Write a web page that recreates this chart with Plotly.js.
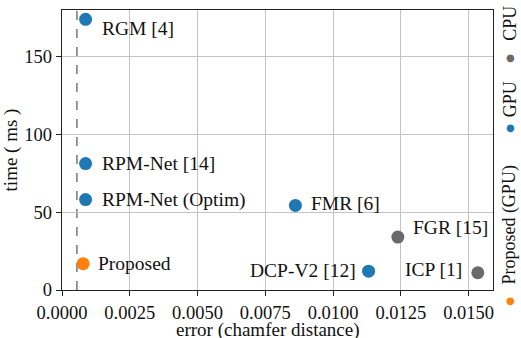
<!DOCTYPE html>
<html>
<head>
<meta charset="utf-8">
<script src="https://cdn.plot.ly/plotly-3.0.1.min.js"></script>
<style>
  html, body { margin: 0; padding: 0; background: #fff; }
  #chart { width: 521px; height: 338px; }
</style>
</head>
<body>
<div id="chart"></div>
<script>
// Registration methods: error vs runtime
const methods = ["RGM [4]", "RPM-Net [14]", "RPM-Net (Optim)", "Proposed",
                 "FMR [6]", "FGR [15]", "DCP-V2 [12]", "ICP [1]"];
const errorVals = [0.00087, 0.00087, 0.00087, 0.00078, 0.00861, 0.01239, 0.01131, 0.01534];
const timeVals = [174, 81.3, 58.1, 16.9, 54.4, 34, 12.1, 11.1];
const device = ["GPU", "GPU", "GPU", "Proposed (GPU)", "GPU", "CPU", "GPU", "CPU"];
const proposedError = 0.00055;

const groupNames = ["Proposed (GPU)", "GPU", "CPU"];
const groupColors = { "Proposed (GPU)": "#ff7f0e", "GPU": "#1f77b4", "CPU": "#6a6a6a" };

// label placement per method: [side, dx, dy]
const labelPlace = {
  "RGM [4]": ["right", 14, -9],
  "RPM-Net [14]": ["right", 14, 0],
  "RPM-Net (Optim)": ["right", 14, 0],
  "Proposed": ["right", 13, 0],
  "FMR [6]": ["right", 14, 2],
  "FGR [15]": ["right", 13, 10],
  "DCP-V2 [12]": ["left", -11, 1],
  "ICP [1]": ["left", -14, 3]
};

const FONT = "'Liberation Serif', 'Times New Roman', serif";

const traces = groupNames.map(g => {
  const idx = device.map((d, i) => d === g ? i : -1).filter(i => i >= 0);
  return {
    type: "scatter",
    mode: "markers",
    name: g,
    x: idx.map(i => errorVals[i]),
    y: idx.map(i => timeVals[i]),
    marker: { color: groupColors[g], size: 13, line: { width: 0 } },
    showlegend: false,
    cliponaxis: false,
    hoverinfo: "skip"
  };
});

const annotations = methods.map((m, i) => {
  const p = labelPlace[m];
  return {
    x: errorVals[i], y: timeVals[i], xref: "x", yref: "y",
    text: m, showarrow: false,
    xanchor: p[0] === "right" ? "left" : "right",
    yanchor: "middle",
    xshift: p[1], yshift: p[2],
    font: { family: FONT, size: 19.5, color: "#111" }
  };
});

// x-axis title, placed under the tick labels
annotations.push({
  xref: "paper", yref: "paper", x: 0.477, y: -0.142,
  xanchor: "center", yanchor: "middle", showarrow: false,
  text: "error (chamfer distance)",
  font: { family: FONT, size: 19, color: "#111" }
});

// vertical legend on the right, reading bottom to top (paper coords)
const legendDotY = [-0.036, 0.582, 0.829];
const legendTextY = [0.012, 0.61, 0.885];
groupNames.forEach((g, k) => {
  annotations.push({
    xref: "paper", yref: "paper", x: 1.041, y: legendDotY[k],
    xanchor: "center", yanchor: "middle",
    text: "●", showarrow: false,
    font: { family: "DejaVu Sans", size: 10, color: groupColors[g] }
  });
  annotations.push({
    xref: "paper", yref: "paper", x: 1.0394, y: legendTextY[k],
    xanchor: "center", yanchor: "bottom",
    text: g, textangle: -90, showarrow: false,
    font: { family: FONT, size: 18, color: "#111" }
  });
});

const layout = {
  width: 521, height: 338,
  margin: { l: 62, r: 28, t: 10, b: 48 },
  paper_bgcolor: "#fff", plot_bgcolor: "#fff",
  font: { family: FONT, size: 18, color: "#111" },
  showlegend: false,
  xaxis: {
    range: [0, 0.0159], tickvals: [0, 0.0025, 0.005, 0.0075, 0.01, 0.0125, 0.015],
    tickformat: ".4f",
    showgrid: true, gridcolor: "#c4c4c4", gridwidth: 1,
    zeroline: false, showline: true, linecolor: "#222", linewidth: 1.3, mirror: true,
    ticks: "outside", ticklen: 5, tickcolor: "#222", ticklabelstandoff: 0,
    tickfont: { family: FONT, size: 18.5, color: "#111" }
  },
  yaxis: {
    range: [0, 180], tickvals: [0, 50, 100, 150],
    showgrid: true, gridcolor: "#c4c4c4", gridwidth: 1,
    zeroline: false, showline: true, linecolor: "#222", linewidth: 1.3, mirror: true,
    ticks: "outside", ticklen: 5, tickcolor: "#222",
    tickfont: { family: FONT, size: 18.5, color: "#111" },
    title: { text: "time ( ms )", font: { family: FONT, size: 19, color: "#111" }, standoff: 6 }
  },
  shapes: [{
    type: "line", xref: "x", yref: "paper",
    x0: proposedError, x1: proposedError, y0: 0, y1: 1,
    line: { color: "#777", width: 1.5, dash: "dash" }, layer: "below"
  }],
  annotations: annotations
};

Plotly.newPlot("chart", traces, layout, { staticPlot: true, displayModeBar: false });
</script>
</body>
</html>
